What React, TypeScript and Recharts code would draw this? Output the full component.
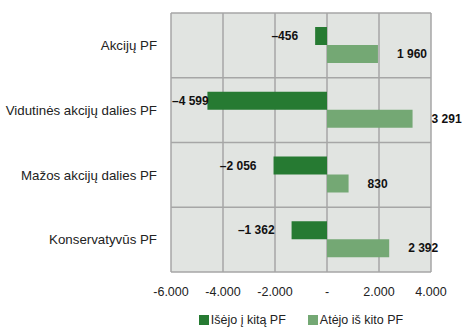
import { BarChart, Bar, XAxis, YAxis, CartesianGrid, Legend, LabelList } from 'recharts';

const categories = ['Akcijų PF', 'Vidutinės akcijų dalies PF', 'Mažos akcijų dalies PF', 'Konservatyvūs PF'];
const isejo = [-456, -4599, -2056, -1362];
const atejo = [1960, 3291, 830, 2392];
const xTicks = [-6000, -4000, -2000, 0, 2000, 4000];
const seriesNames = ['Išėjo į kitą PF', 'Atėjo iš kito PF'];

const data = categories.map((name, i) => ({ name, isejo: isejo[i], atejo: atejo[i] }));

const DARK = '#267a32';
const LIGHT = '#74a874';
const PLOT_LEFT = 171;
const FONT = '"Liberation Sans", Arial, sans-serif';

const groupDigits = (n: number, sep: string) =>
  Math.abs(n).toString().replace(/\B(?=(\d{3})+(?!\d))/g, sep);

const tickFmt = (v: number) => (v === 0 ? '-' : (v < 0 ? '-' : '') + groupDigits(v, '.'));
const labelFmt = (v: number) => (v < 0 ? '–' : '') + groupDigits(v, ' ');

const renderLabel = (props: any) => {
  const { x, y, width, height, value } = props;
  const left = Math.min(x, x + width);
  const right = Math.max(x, x + width);
  const cy = y + height / 2;
  const text = labelFmt(value);
  if (value < 0) {
    let tx = left - 17;
    let anchor: 'end' | 'start' = 'end';
    if (tx - text.length * 6.6 < PLOT_LEFT) {
      tx = PLOT_LEFT + 1;
      anchor = 'start';
    }
    return (
      <text x={tx} y={cy} textAnchor={anchor} dominantBaseline="central" fontSize={12} fontWeight="bold" fill="#111" fontFamily={FONT}>
        {text}
      </text>
    );
  }
  return (
    <text x={right + 19} y={cy} textAnchor="start" dominantBaseline="central" fontSize={12} fontWeight="bold" fill="#111" fontFamily={FONT}>
      {text}
    </text>
  );
};

const renderLegend = () => (
  <div style={{ display: 'flex', justifyContent: 'center', gap: 22, height: 14, lineHeight: '14px', fontSize: 12.5, fontFamily: FONT, color: '#222' }}>
    {seriesNames.map((n, i) => (
      <div key={n} style={{ display: 'flex', alignItems: 'center' }}>
        <span style={{ width: 10, height: 10, background: i === 0 ? DARK : LIGHT, marginRight: 2, display: 'inline-block' }} />
        {n}
      </div>
    ))}
  </div>
);

export default function App() {
  return (
    <div style={{ position: 'absolute', left: 0, top: 0, background: '#fff' }}>
      <BarChart
        width={465}
        height={327}
        data={data}
        layout="vertical"
        barSize={18}
        barGap={0}
        margin={{ top: 13, right: 34, left: 0, bottom: 0 }}
      >
        <CartesianGrid
          fill="#e1e4e1"
          stroke="#a6a6a6"
          strokeWidth={1.5}
          horizontalCoordinatesGenerator={({ offset }: any) =>
            Array.from({ length: categories.length + 1 }, (_, i) => offset.top + (offset.height * i) / categories.length)
          }
        />
        <XAxis
          type="number"
          domain={[-6000, 4000]}
          ticks={xTicks}
          tickFormatter={tickFmt}
          axisLine={false}
          tickLine={false}
          tickSize={0}
          tickMargin={15}
          height={41}
          tick={{ fill: '#222', fontSize: 12.5, fontFamily: FONT }}
          allowDataOverflow
        />
        <YAxis
          type="category"
          dataKey="name"
          width={171}
          axisLine={false}
          tickLine={false}
          tickSize={0}
          tickMargin={14}
          tick={{ fill: '#222', fontSize: 13.3, fontFamily: FONT }}
        />
        <Legend verticalAlign="bottom" content={renderLegend} wrapperStyle={{ left: 171, width: 260 }} />
        <Bar dataKey="isejo" name={seriesNames[0]} fill={DARK} isAnimationActive={false}>
          <LabelList dataKey="isejo" content={renderLabel} />
        </Bar>
        <Bar dataKey="atejo" name={seriesNames[1]} fill={LIGHT} isAnimationActive={false}>
          <LabelList dataKey="atejo" content={renderLabel} />
        </Bar>
      </BarChart>
    </div>
  );
}
